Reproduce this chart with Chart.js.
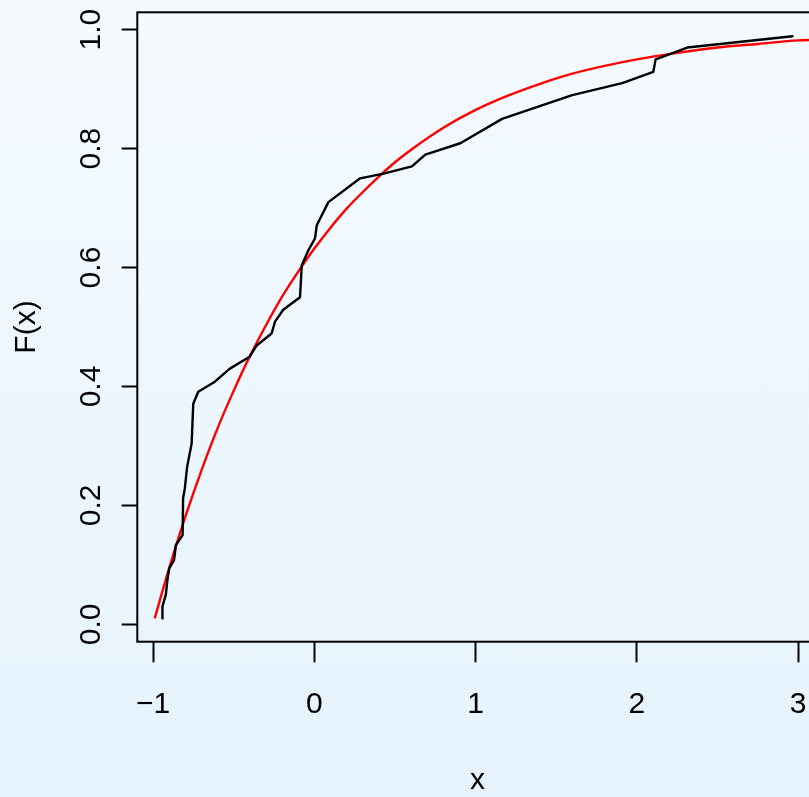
<!DOCTYPE html>
<html lang="en">

<head>
    <meta charset="UTF-8">
    <title>F(x)</title>
    <script src="https://cdn.jsdelivr.net/npm/chart.js"></script>
    <style>
        html, body {
            margin: 0;
            width: 809px;
            height: 797px;
            overflow: hidden;
            background: linear-gradient(to bottom, #f5fafe 0%, #e6f3fd 100%);
        }
        canvas { display: block; }
    </style>
</head>

<body>
    <canvas id="myChart" width="830" height="797"></canvas>
    <script>
        // empirical distribution (black)
        const ecdfX = [-0.942, -0.942, -0.921, -0.911, -0.900, -0.870, -0.859, -0.817, -0.814, -0.803,
            -0.789, -0.761, -0.751, -0.720, -0.617, -0.524, -0.401, -0.358, -0.265, -0.244,
            -0.193, -0.089, -0.078, -0.037, 0.004, 0.015, 0.087, 0.284, 0.429, 0.605,
            0.688, 0.905, 1.164, 1.599, 1.909, 2.102, 2.116, 2.313, 2.965];
        const ecdfY = [0.010, 0.030, 0.050, 0.075, 0.094, 0.108, 0.133, 0.150, 0.212, 0.229,
            0.265, 0.304, 0.371, 0.391, 0.408, 0.430, 0.450, 0.469, 0.489, 0.509,
            0.529, 0.550, 0.604, 0.629, 0.649, 0.671, 0.710, 0.750, 0.758, 0.770,
            0.790, 0.809, 0.850, 0.890, 0.910, 0.929, 0.950, 0.970, 0.989];

        // fitted distribution (red)
        const fitX = [-0.99, -0.9, -0.8, -0.7, -0.6, -0.5, -0.4, -0.3, -0.2, -0.1,
            0, 0.1, 0.2, 0.3, 0.4, 0.5, 0.6, 0.8, 1.0, 1.2,
            1.4, 1.6, 1.8, 2.0, 2.25, 2.5, 2.75, 3.0, 3.1];
        const fitY = [0.010, 0.095, 0.181, 0.259, 0.330, 0.393, 0.451, 0.503, 0.551, 0.593,
            0.632, 0.667, 0.699, 0.727, 0.753, 0.777, 0.798, 0.835, 0.865, 0.889,
            0.909, 0.926, 0.939, 0.950, 0.961, 0.970, 0.976, 0.982, 0.983];

        const xTicks = [-1, 0, 1, 2, 3];
        const yTicks = [0, 0.2, 0.4, 0.6, 0.8, 1.0];

        const font = { family: "'Liberation Sans', Arial, sans-serif", size: 30 };

        // box around the plotting region
        const boxPlugin = {
            id: 'box',
            afterDraw(chart) {
                const { ctx, chartArea: a } = chart;
                ctx.save();
                ctx.strokeStyle = '#000';
                ctx.lineWidth = 2;
                ctx.strokeRect(a.left, a.top, a.right - a.left, a.bottom - a.top);
                ctx.restore();
            }
        };

        const ctx = document.getElementById('myChart').getContext('2d');
        const chart = new Chart(ctx, {
            type: 'scatter',
            data: {
                datasets: [{
                    data: ecdfX.map((x, i) => ({ x: x, y: ecdfY[i] })),
                    showLine: true,
                    borderColor: '#000000',
                    borderWidth: 2.4,
                    pointRadius: 0,
                    borderJoinStyle: 'round',
                    borderCapStyle: 'round'
                }, {
                    data: fitX.map((x, i) => ({ x: x, y: fitY[i] })),
                    showLine: true,
                    borderColor: '#ff0000',
                    borderWidth: 2.4,
                    pointRadius: 0,
                    cubicInterpolationMode: 'monotone'
                }]
            },
            options: {
                responsive: false,
                animation: false,
                devicePixelRatio: 1,
                layout: { padding: { left: 0, top: 12.3, right: 12.5, bottom: 0 } },
                plugins: { legend: { display: false }, tooltip: { enabled: false } },
                scales: {
                    x: {
                        type: 'linear',
                        min: -1.098,
                        max: 3.12,
                        afterBuildTicks: s => { s.ticks = xTicks.map(v => ({ value: v })); },
                        afterFit: s => { s.height = 155.3; s.paddingLeft = 0; s.paddingRight = 0; },
                        border: { display: false },
                        grid: { drawOnChartArea: false, tickLength: 20.6, tickWidth: 2, tickColor: '#000' },
                        ticks: {
                            color: '#000',
                            font: font,
                            padding: 24,
                            maxRotation: 0,
                            autoSkip: false,
                            callback: v => v < 0 ? '\u2212' + Math.abs(v) : String(v)
                        },
                        title: {
                            display: true,
                            text: 'x',
                            color: '#000',
                            font: { ...font, lineHeight: 1 },
                            padding: { top: 0, bottom: 1 }
                        }
                    },
                    y: {
                        type: 'linear',
                        min: -0.0292,
                        max: 1.0292,
                        afterBuildTicks: s => { s.ticks = yTicks.map(v => ({ value: v })); },
                        afterFit: s => { s.width = 137.3; s.paddingTop = 0; s.paddingBottom = 0; },
                        border: { display: false },
                        grid: { drawOnChartArea: false, tickLength: 15.6, tickWidth: 2, tickColor: '#000' },
                        ticks: {
                            color: '#000',
                            font: font,
                            padding: 9,
                            minRotation: 90,
                            maxRotation: 90,
                            crossAlign: 'center',
                            autoSkip: false,
                            callback: v => v.toFixed(1)
                        },
                        title: {
                            display: true,
                            text: 'F(x)',
                            color: '#000',
                            font: { ...font, lineHeight: 1 },
                            padding: { top: 12, bottom: 0 }
                        }
                    }
                }
            },
            plugins: [boxPlugin]
        });
    </script>
</body>

</html>
